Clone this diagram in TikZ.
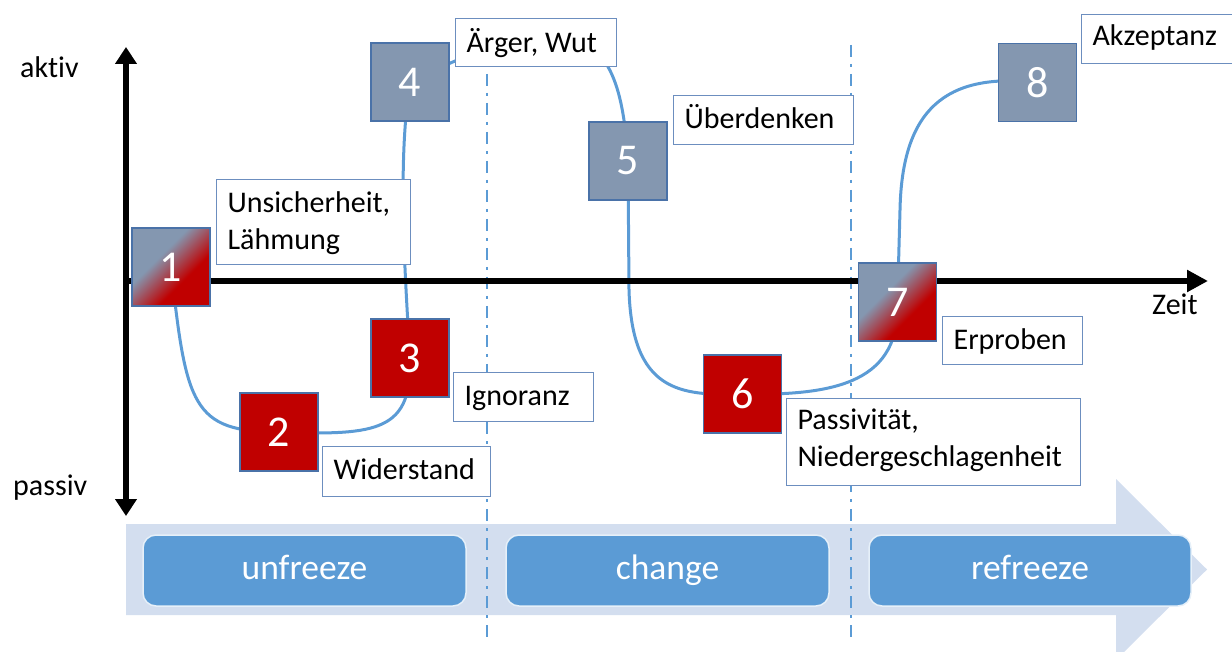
\documentclass[tikz,border=0pt]{standalone}
\usepackage{fontspec}
\setmainfont{Carlito}[RawFeature={-liga;-calt}]
\frenchspacing
\usetikzlibrary{arrows.meta}
\definecolor{sqgray}{HTML}{8497B0}
\definecolor{sqred}{HTML}{C00000}
\definecolor{sqborder}{HTML}{4A72A8}
\definecolor{labborder}{HTML}{6C8EBF}
\definecolor{curveblue}{HTML}{5B9BD5}
\definecolor{bandblue}{HTML}{D3DEEF}
\definecolor{phaseblue}{HTML}{5B9BD5}
\pgfdeclarehorizontalshading{grayred}{100bp}{color(0bp)=(sqgray); color(40bp)=(sqgray); color(62bp)=(sqred); color(100bp)=(sqred)}
\newcommand\lblfont{\fontsize{30}{36.5}\selectfont}
\newcommand\numfont{\fontsize{44}{44}\selectfont}
\newcommand\phasefont{\fontsize{35.5}{40}\selectfont}
\begin{document}
\begin{tikzpicture}[x=1pt,y=-1pt,
  sq/.style={minimum size=78pt, inner sep=0pt, draw=sqborder, line width=1.2pt, text=white, font=\numfont},
  grayq/.style={sq, fill=sqgray},
  redq/.style={sq, fill=sqred},
  mixq/.style={sq, shading=grayred, shading angle=-45},
  lab/.style={draw=labborder, fill=white, line width=1.2pt, inner xsep=11pt, inner ysep=0pt,
    align=left, anchor=north west, font=\lblfont, text=black},
  phase/.style={draw=white!85!phaseblue, line width=1.5pt, fill=phaseblue, rounded corners=13pt,
    minimum width=323pt, minimum height=71pt, text=white, font=\phasefont,
    text height=18pt, text depth=0pt, inner sep=0pt},
  axis/.style={line width=6pt, black},
  curve/.style={curveblue, line width=3pt},
  divider/.style={curveblue, line width=2.5pt, dash pattern=on 12pt off 7pt on 3pt off 7pt},
  axlabel/.style={anchor=base west, font=\lblfont, inner sep=0pt}
]
\useasboundingbox (0,0) rectangle (1232,652);

% broad arrow carrying the three phases
\fill[bandblue] (126,524) -- (1116,524) -- (1116,479) -- (1207,569.5) -- (1116,660)
  -- (1116,615) -- (126,615) -- cycle;
\node[phase] (unfreeze) at (304.5,570.5) {unfreeze};
\node[phase] (change) at (667.5,570.5) {change};
\node[phase, minimum width=322pt] (refreeze) at (1030,570.5) {refreeze};

% phase dividers
\coordinate (d1top) at (487,45);
\coordinate (d1bot) at (487,640);
\coordinate (d2top) at (851,45);
\coordinate (d2bot) at (851,640);
\draw[divider] (d1top) -- (d1bot);
\draw[divider] (d2top) -- (d2bot);

% stage positions
\coordinate (c1) at (171,267);
\coordinate (c2) at (279,432);
\coordinate (c3) at (410,358);
\coordinate (c4) at (410,82);
\coordinate (c5) at (628,161);
\coordinate (c6) at (742.5,394);
\coordinate (c7) at (897.5,302);
\coordinate (c8) at (1037.5,82.5);

% course of the emotions
\draw[curve] (c1) .. controls (186,405) and (192,432) .. (c2)
  .. controls (380,436) and (412,430) .. (c3)
  .. controls (404,260) and (398,160) .. (c4)
  .. controls (455,60) and (500,38) .. (560,38)
  .. controls (612,38) and (624,95) .. (c5)
  -- (629,290) .. controls (632,392) and (680,396) .. (c6)
  .. controls (840,396) and (900,380) .. (c7)
  -- (900,210) .. controls (902,110) and (945,72) .. (c8);

% axes
\coordinate (ytop) at (126,47);
\coordinate (ybot) at (126,516);
\coordinate (origin) at (126,281);
\coordinate (xend) at (1208,281);
\draw[axis, {Triangle[length=17pt,width=21pt]}-{Triangle[length=17pt,width=21pt]}] (ybot) -- (ytop);
\draw[axis, -{Triangle[length=21pt,width=21pt]}] (origin) -- (xend);

% stages
\node[mixq] (s1) at (c1) {1};
\node[redq] (s2) at (c2) {2};
\node[redq] (s3) at (c3) {3};
\node[grayq] (s4) at (c4) {4};
\node[grayq] (s5) at (c5) {5};
\node[redq] (s6) at (c6) {6};
\node[mixq] (s7) at (c7) {7};
\node[grayq] (s8) at (c8) {8};

% stage descriptions
\node[lab, text width=172pt, text height=33pt, text depth=52pt] (l1) at (216,179) {Unsicherheit,\\Lähmung};
\node[lab, text width=146pt, text height=33pt, text depth=17pt] (l2) at (322,446) {Widerstand};
\node[lab, text width=118pt, text height=33pt, text depth=16pt] (l3) at (453,372) {Ignoranz};
\node[lab, text width=139pt, text height=34pt, text depth=14pt] (l4) at (455,18) {Ärger,\hspace{7pt}Wut};
\node[lab, text width=158pt, text height=33pt, text depth=16pt] (l5) at (673,95) {Überdenken};
\node[lab, text width=272pt, text height=31pt, text depth=56pt] (l6) at (786,398) {Passivität,\\Niedergeschlagenheit};
\node[lab, text width=118pt, text height=33pt, text depth=15pt] (l7) at (942,316) {Erproben};
\node[lab, text width=138pt, text height=31pt, text depth=18pt] (l8) at (1081,14) {Akzeptanz};

% axis captions
\node[axlabel] (aktiv) at (20,78) {aktiv};
\node[axlabel] (passiv) at (13,495) {passiv};
\node[axlabel] (zeit) at (1152,315) {Zeit};
\end{tikzpicture}
\end{document}
